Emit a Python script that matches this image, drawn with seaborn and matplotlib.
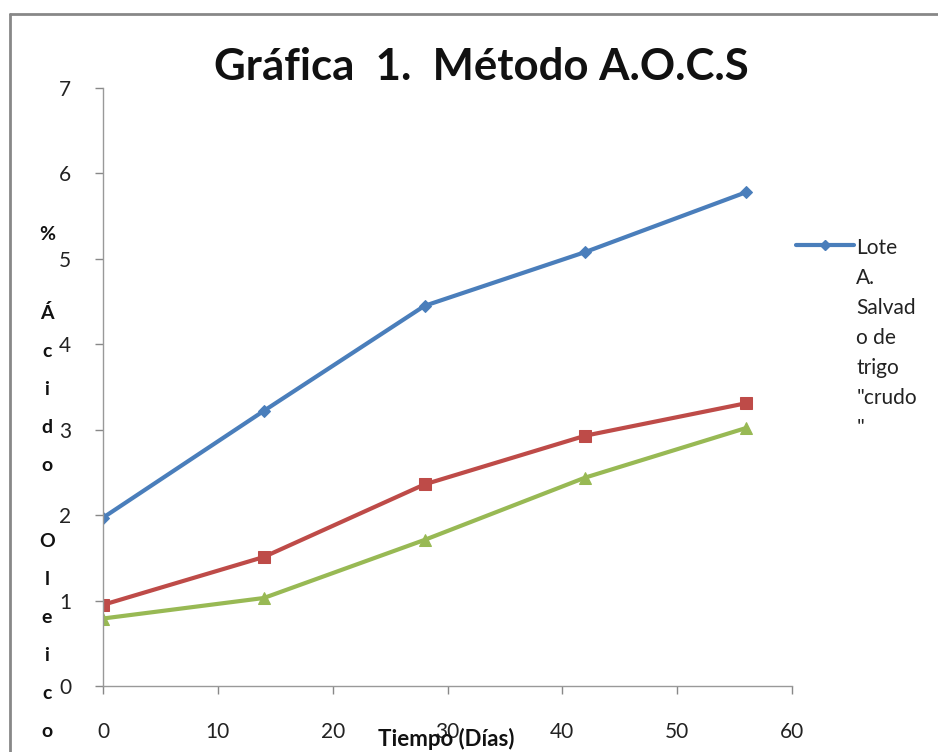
import matplotlib
matplotlib.use("Agg")
import matplotlib.pyplot as plt
import seaborn as sns
import pandas as pd
from matplotlib.lines import Line2D

dias = [0, 14, 28, 42, 56]
lote_a = [1.97, 3.22, 4.45, 5.08, 5.78]
lote_b = [0.95, 1.51, 2.36, 2.93, 3.31]
lote_c = [0.79, 1.03, 1.71, 2.44, 3.02]
series_names = ['Lote A. Salvado de trigo "crudo"', "Lote B", "Lote C"]
legend_label = 'Lote\nA.\nSalvad\no de\ntrigo\n"crudo\n"'
title = "Gráfica  1.  Método A.O.C.S"
xlabel = "Tiempo (Días)"
ylabel = "%\n\nÁ\nc\ni\nd\no\n\nO\nl\ne\ni\nc\no"
xticks = [0, 10, 20, 30, 40, 50, 60]
yticks = [0, 1, 2, 3, 4, 5, 6, 7]

sns.set_theme(style="white")
plt.rcParams["font.family"] = ["Lato", "DejaVu Sans"]

fig = plt.figure(figsize=(9.38, 7.52), dpi=100)
ax = fig.add_axes([103/938, 1-686/752, (792-103)/938, (686-88)/752])

colors = ["#4A7EBB", "#BE4B48", "#98B954"]
markers = ["D", "s", "^"]
msizes = [6, 9, 9]
for vals, c, m, ms, name in zip([lote_a, lote_b, lote_c], colors, markers, msizes, series_names):
    df = pd.DataFrame({"x": dias, "y": vals})
    sns.lineplot(data=df, x="x", y="y", ax=ax, color=c, marker=m, markersize=ms,
                 markeredgecolor=c, linewidth=3, legend=False)

ax.set_xlim(0, 60)
ax.set_ylim(0, 7)
ax.set_xticks(xticks)
ax.set_yticks(yticks)
ax.set_xticklabels([str(t) for t in xticks])
ax.set_yticklabels([str(t) for t in yticks])
ax.tick_params(axis="both", which="major", direction="out", length=6, width=1,
               color="#888888", labelsize=15, labelcolor="#222222", left=True, bottom=True)
ax.tick_params(axis="y", pad=17)
ax.tick_params(axis="x", pad=20)
ax.set_xlabel("")
ax.set_ylabel("")
for s in ["top", "right"]:
    ax.spines[s].set_visible(False)
for s in ["left", "bottom"]:
    ax.spines[s].set_color("#999999")
    ax.spines[s].set_linewidth(1)
ax.set_facecolor("white")

fig.text(481/938, 1-67/752, title, ha="center", va="center", fontsize=31.5, fontweight="bold", color="#111111")
fig.text(446/938, 1-739/752, xlabel, ha="center", va="center", fontsize=16, fontweight="bold", color="#111111")
fig.text(47/938, 1-483/752, ylabel, ha="center", va="center", fontsize=14, fontweight="bold",
         color="#111111", linespacing=2.5)

h = Line2D([], [], color=colors[0], marker=markers[0], markersize=5, linewidth=3)
leg = fig.legend([h], [legend_label], loc="upper left", bbox_to_anchor=(796/938, 1-238/752),
                 frameon=False, fontsize=15, handlelength=2.8, handletextpad=0.1,
                 labelspacing=0.2, borderpad=0, borderaxespad=0)
for t in leg.get_texts():
    t.set_linespacing(1.63)
    t.set_color("#222222")
for vp in leg._legend_handle_box.get_children():
    for hp in vp.get_children():
        hp.align = "top"

# outer chart border (cropped at right/bottom)
fig.add_artist(Line2D([10/938, 10/938], [0, 1-14/752], transform=fig.transFigure, color="#888888", linewidth=2))
fig.add_artist(Line2D([10/938, 1], [1-14/752, 1-14/752], transform=fig.transFigure, color="#888888", linewidth=2))

fig.savefig("out.png", dpi=100)
